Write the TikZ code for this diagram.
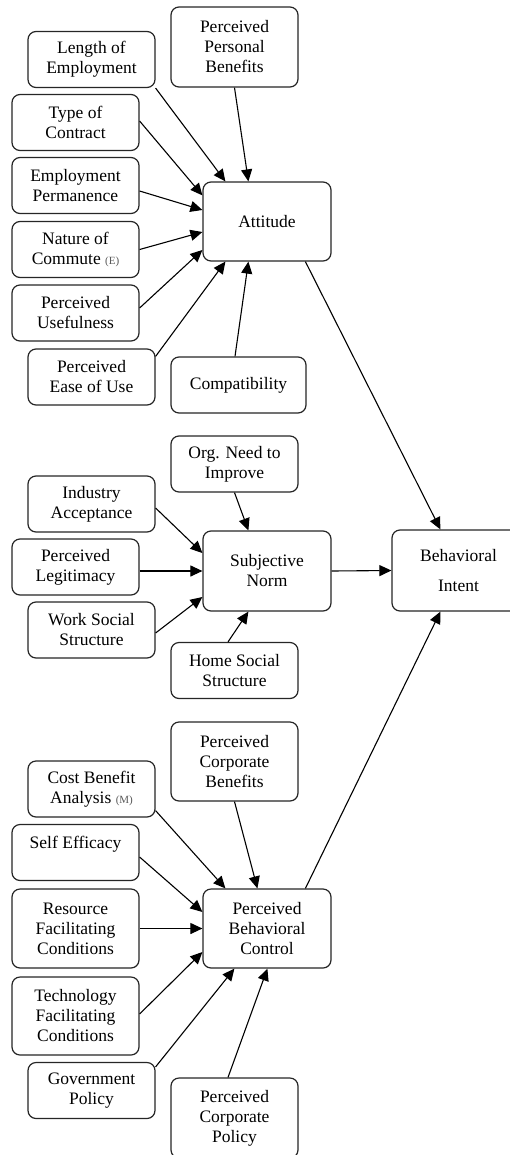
\documentclass[tikz,border=0pt]{standalone}
\usepackage{fontspec}
\setmainfont{Liberation Serif}
\usetikzlibrary{arrows.meta,calc}
\begin{document}
\begin{tikzpicture}[x=1bp,y=-1bp,
  box/.style={draw=black!85, line width=1.2bp, rounded corners=8bp, align=center,
    inner sep=0pt, minimum width=127bp, minimum height=56bp, fill=white,
    font=\fontsize{17.5bp}{20bp}\selectfont},
  tall/.style={minimum height=80bp},
  arr/.style={line width=1.1bp, -{Triangle[length=12bp,width=11bp]}}]
\useasboundingbox (0,0) rectangle (510,1155);
\newcommand{\tinynote}[1]{{\fontsize{11bp}{12bp}\selectfont\color{black!65}#1}}
% Attitude group
\node[box] (lenemp) at (91.5,59.5) {Length of\\Employment};
\node[box,tall] (ppb) at (234.5,47) {Perceived\\Personal\\Benefits};
\node[box] (toc) at (75.5,122.5) {Type of\\Contract};
\node[box] (ep) at (75.5,185.5) {Employment\\Permanence};
\node[box] (noc) at (75.5,249.5) {Nature of\\Commute \tinynote{(E)}};
\node[box] (pu) at (75.5,313) {Perceived\\Usefulness};
\node[box] (peou) at (91.5,377) {Perceived\\Ease of Use};
\node[box,minimum width=135bp] (compat) at (238.5,385) {Compatibility};
\node[box,minimum width=128bp,minimum height=79bp] (att) at (267,221.5) {Attitude};
% Subjective norm group
\node[box] (org) at (234.5,464) {Org. Need to\\Improve};
\node[box] (ia) at (91.5,504) {Industry\\Acceptance};
\node[box] (pl) at (75.5,567) {Perceived\\Legitimacy};
\node[box] (wss) at (91.5,630) {Work Social\\Structure};
\node[box,minimum width=128bp,tall] (sn) at (267,571) {Subjective\\Norm};
\node[box] (hss) at (234.5,670.5) {Home Social\\Structure};
\node[box,minimum width=133bp,minimum height=81bp] (bi) at (458.5,570.5) {Behavioral\\[10bp]Intent};
% PBC group
\node[box,minimum height=79bp] (pcb) at (234.5,761.5) {Perceived\\Corporate\\Benefits};
\node[box] (cba) at (91.5,789) {Cost Benefit\\Analysis \tinynote{(M)}};
\node[box] (se) at (75.5,852.5) {Self Efficacy\\\phantom{X}};
\node[box,minimum height=79bp] (rfc) at (75.5,928.5) {Resource\\Facilitating\\Conditions};
\node[box,minimum height=78bp] (tfc) at (75.5,1016) {Technology\\Facilitating\\Conditions};
\node[box] (gp) at (91.5,1090.5) {Government\\Policy};
\node[box,minimum width=128bp,minimum height=79bp] (pbc) at (267,928.5) {Perceived\\Behavioral\\Control};
\node[box,tall] (pcp) at (234.5,1118) {Perceived\\Corporate\\Policy};
% Arrows to Attitude
\draw[arr] (lenemp.south east) -- ($(att.north west)+(23,0)$);
\draw[arr] (ppb.south) -- ($(att.north west)+(46,0)$);
\draw[arr] ($(toc.east)+(0,-1.5)$) -- ($(att.north west)+(0,14)$);
\draw[arr] ($(ep.east)+(0,5.5)$) -- ($(att.west)+(0,-11.5)$);
\draw[arr] (noc.east) -- ($(att.west)+(0,10.5)$);
\draw[arr] ($(pu.east)+(0,-5)$) -- ($(att.west)+(0,28.5)$);
\draw[arr] ($(peou.north east)+(0,8)$) -- ($(att.south west)+(23,0)$);
\draw[arr] ($(compat.north)+(-3.5,0)$) -- ($(att.south west)+(46,0)$);
\draw[arr] ($(att.south west)+(103,0)$) -- ($(bi.north west)+(49,0)$);
% Arrows to Subjective Norm
\draw[arr] (org.south) -- ($(sn.north west)+(46,0)$);
\draw[arr] ($(ia.east)+(0,4)$) -- ($(sn.west)+(0,-18)$);
\draw[arr] (pl.east |- sn.west) -- (sn.west);
\draw[arr] ($(wss.east)+(0,3)$) -- ($(sn.west)+(0,26)$);
\draw[arr] ($(hss.north)+(-6.5,0)$) -- ($(sn.south west)+(46,0)$);
\draw[arr] (sn.east) -- (bi.west);
% Arrows to PBC
\draw[arr] (pcb.south) -- ($(pbc.north west)+(55,0)$);
\draw[arr] ($(cba.south east)+(0,-7)$) -- ($(pbc.north west)+(23,0)$);
\draw[arr] ($(se.east)+(0,4.5)$) -- ($(pbc.west)+(0,-16.5)$);
\draw[arr] (rfc.east) -- (pbc.west);
\draw[arr] ($(tfc.east)+(0,-2)$) -- ($(pbc.west)+(0,23.5)$);
\draw[arr] ($(gp.north east)+(0,5)$) -- ($(pbc.south west)+(32,0)$);
\draw[arr] ($(pcp.north)+(-6.5,0)$) -- ($(pbc.south west)+(65,0)$);
\draw[arr] ($(pbc.north west)+(103,0)$) -- ($(bi.south west)+(49,0)$);
\end{tikzpicture}
\end{document}
